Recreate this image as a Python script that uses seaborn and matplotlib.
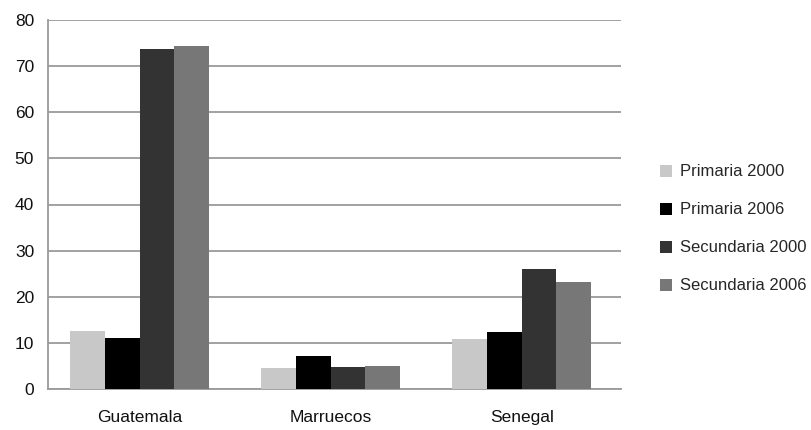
import matplotlib
matplotlib.use("Agg")
import matplotlib.pyplot as plt
import seaborn as sns
import pandas as pd

categories = ["Guatemala", "Marruecos", "Senegal"]
series = ["Primaria 2000", "Primaria 2006", "Secundaria 2000", "Secundaria 2006"]
primaria_2000 = [12.6, 4.5, 10.8]
primaria_2006 = [11.0, 7.2, 12.4]
secundaria_2000 = [73.7, 4.8, 26.0]
secundaria_2006 = [74.3, 4.9, 23.3]
y_ticks = [0, 10, 20, 30, 40, 50, 60, 70, 80]

values = [primaria_2000, primaria_2006, secundaria_2000, secundaria_2006]
rows = []
for s, vals in zip(series, values):
    for c, v in zip(categories, vals):
        rows.append({"pais": c, "serie": s, "valor": v})
df = pd.DataFrame(rows)

sns.set_theme(style="white")
plt.rcParams["font.family"] = ["Liberation Sans", "DejaVu Sans"]

fig = plt.figure(figsize=(8.11, 4.30), dpi=100)
ax = fig.add_axes([48 / 811, 1 - 389 / 430, (621 - 48) / 811, (389 - 20) / 430])

palette = ["#c8c8c8", "#000000", "#333333", "#777777"]
sns.barplot(data=df, x="pais", y="valor", hue="serie", hue_order=series,
            order=categories, palette=palette, width=0.725, saturation=1,
            edgecolor="none", ax=ax, zorder=3)

ax.set_xlim(-0.48, 2.52)
ax.set_ylim(0, 80)
ax.set_yticks(y_ticks)
ax.yaxis.grid(True, color="#9a9a9a", linewidth=1.3, zorder=0)
ax.set_axisbelow(True)
for side in ["top", "right"]:
    ax.spines[side].set_visible(False)
for side in ["left", "bottom"]:
    ax.spines[side].set_color("#9a9a9a")
    ax.spines[side].set_linewidth(1.3)
ax.tick_params(axis="both", length=0, labelsize=12.5, colors="#111111")
ax.tick_params(axis="x", pad=15)
ax.tick_params(axis="y", pad=10)
ax.set_xlabel("")
ax.set_ylabel("")

handles, labels = ax.get_legend_handles_labels()
ax.legend(handles, labels, loc="center left", bbox_to_anchor=(645 / 811, 1 - 229 / 430),
          bbox_transform=fig.transFigure, frameon=False, fontsize=12,
          handlelength=0.7, handleheight=0.7, handletextpad=0.5, labelspacing=1.38)

fig.savefig("out.png", dpi=100)
